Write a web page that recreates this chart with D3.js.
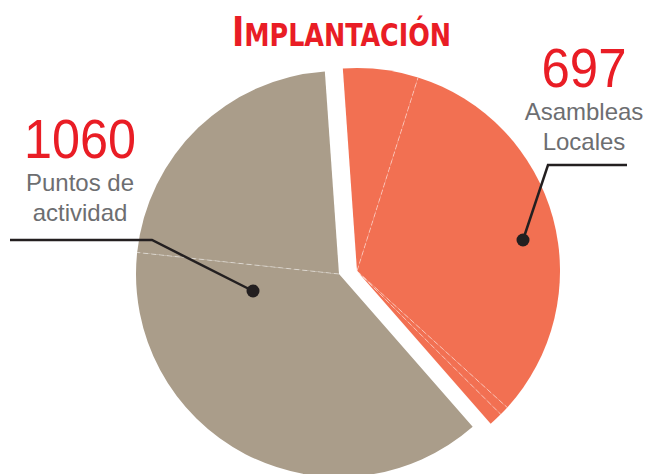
<!DOCTYPE html>
<html>
<head>
<meta charset="utf-8">
<script src="https://cdn.jsdelivr.net/npm/d3@7"></script>
<style>
  body { margin: 0; background: #fff; }
</style>
</head>
<body>
<div class="chart"></div>
<script>
// DATA ------------------------------
const groups = ["Asambleas Locales", "Puntos de actividad"]
const groupTotals = [697, 1060]
const groupLabels = [["Asambleas", "Locales"], ["Puntos de", "actividad"]]
// sub-slices inside each group
const sliceValues = [105, 560, 13, 19, 670, 390]
const sliceGroup = [0, 0, 0, 0, 1, 1]

const colors = ["#F27052", "#AA9D8A"]
const red = "#E91D25"
const grey = "#6D6E71"

// LAYOUT
const width = 646, height = 474
const cx = 348, cy = 272.5, radius = 203
const offsets = [[9, -1.5], [-9, 1.5]]
const startDeg = -4

const svg = d3.select(".chart")
  .append("svg")
  .attr("width", width)
  .attr("height", height)

const a0 = startDeg * Math.PI / 180
const pie = d3.pie().sort(null).startAngle(a0).endAngle(a0 + 2 * Math.PI)
const arcs = pie(sliceValues)
const arc = d3.arc().innerRadius(0).outerRadius(radius)

const gGroups = groups.map((g, i) => svg.append("g")
  .attr("transform", `translate(${cx + offsets[i][0]},${cy + offsets[i][1]})`))

arcs.forEach((d, i) => {
  gGroups[sliceGroup[i]].append("path")
    .attr("d", arc(d))
    .attr("fill", colors[sliceGroup[i]])
})

// thin separators between sub-slices of the same group
arcs.forEach((d, i) => {
  if (i > 0 && sliceGroup[i] === sliceGroup[i - 1]) {
    const p = d3.pointRadial(d.startAngle, radius)
    gGroups[sliceGroup[i]].append("line")
      .attr("x1", 0).attr("y1", 0)
      .attr("x2", p[0]).attr("y2", p[1])
      .attr("stroke", "#fff")
      .attr("stroke-opacity", 0.45)
      .attr("stroke-width", 1)
      .attr("stroke-dasharray", "5,3")
  }
})

// TITLE
const title = svg.append("text")
  .attr("x", 232).attr("y", 46)
  .attr("fill", red)
  .style("font-family", "'DejaVu Sans Condensed', 'DejaVu Sans', sans-serif")
  .style("font-weight", "bold")
  .attr("textLength", 219)
  .attr("lengthAdjust", "spacingAndGlyphs")
title.append("tspan").style("font-size", "41px").text("I")
title.append("tspan").style("font-size", "31.5px").text("MPLANTACIÓN")

// ANNOTATIONS
const notes = [
  { cx: 584, numY: 87, numW: 85, lineY: [120, 150],
    leader: [[627, 165], [548, 165], [523, 240]] },
  { cx: 80, numY: 158, numW: 112, lineY: [191, 221],
    leader: [[10, 240], [152, 240], [253, 291]] }
]

notes.forEach((n, i) => {
  svg.append("text")
    .attr("x", n.cx).attr("y", n.numY)
    .attr("text-anchor", "middle")
    .attr("fill", red)
    .attr("textLength", n.numW)
    .attr("lengthAdjust", "spacingAndGlyphs")
    .style("font-family", "'Liberation Sans', Arial, sans-serif")
    .style("font-size", "56px")
    .text(groupTotals[i])

  groupLabels[i].forEach((t, j) => {
    svg.append("text")
      .attr("x", n.cx).attr("y", n.lineY[j])
      .attr("text-anchor", "middle")
      .attr("fill", grey)
      .style("font-family", "'Liberation Sans', Arial, sans-serif")
      .style("font-size", "24px")
      .text(t)
  })

  svg.append("path")
    .attr("d", d3.line()(n.leader))
    .attr("fill", "none")
    .attr("stroke", "#231F20")
    .attr("stroke-width", 2.5)

  const end = n.leader[n.leader.length - 1]
  svg.append("circle")
    .attr("cx", end[0]).attr("cy", end[1])
    .attr("r", 6.5)
    .attr("fill", "#231F20")
})
</script>
</body>
</html>
